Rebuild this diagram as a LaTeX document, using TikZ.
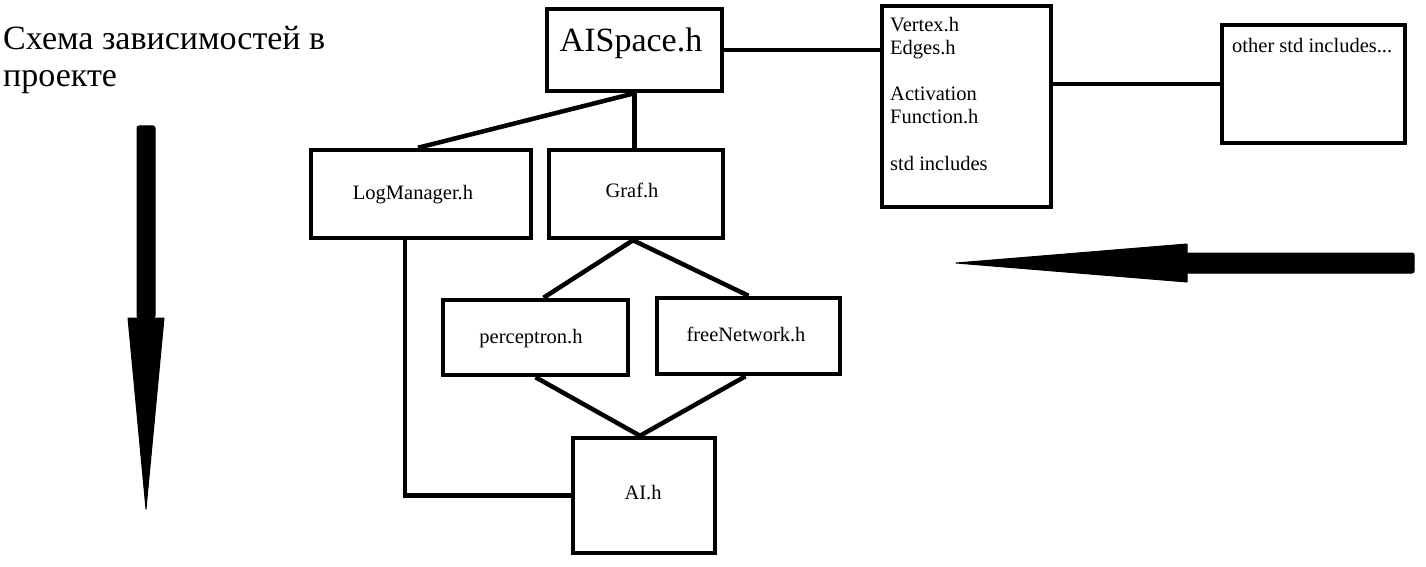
\documentclass[tikz,border=0pt]{standalone}
\usepackage{fontspec}
\setmainfont{Liberation Serif}
\usetikzlibrary{calc}
\tikzset{
  box/.style={draw, line width=4.5pt, inner sep=0pt, minimum width=#1},
  conn/.style={line width=4.5pt},
  small/.style={font=\fontsize{20.5}{23}\selectfont, inner sep=0pt},
  big/.style={font=\fontsize{34}{40}\selectfont, inner sep=0pt},
  ttl/.style={font=\fontsize{34}{38}\selectfont, inner sep=0pt},
  arrowfill/.style={fill=black, draw=black, line width=1pt, line join=round}
}
\begin{document}
\begin{tikzpicture}[x=1pt, y=-1pt]
\useasboundingbox (0,0) rectangle (1426,567);
% boxes
\node[box=175, minimum height=82] (aispace) at (634.5,50) {};
\node[box=169, minimum height=201] (vertex) at (966.5,106.5) {};
\node[box=183, minimum height=118] (other) at (1313.5,84) {};
\node[box=220, minimum height=88] (logm) at (421,194) {};
\node[box=174, minimum height=88] (graf) at (636,194) {};
\node[box=185, minimum height=75] (perc) at (535.5,337.5) {};
\node[box=183, minimum height=76] (free) at (748.5,336) {};
\node[box=142, minimum height=115] (ai) at (644,495.5) {};
% labels
\node[big, anchor=base] (taispace) at (631,52) {AISpace.h};
\node[small, anchor=base west] (tv1) at (890,32) {Vertex.h};
\node[small, anchor=base west] (tv2) at (890,55) {Edges.h};
\node[small, anchor=base west] (tv3) at (890,101) {Activation};
\node[small, anchor=base west] (tv4) at (890,124) {Function.h};
\node[small, anchor=base west] (tv5) at (890,170) {std includes};
\node[small, anchor=base west] (tother) at (1232,53) {other std includes...};
\node[small, anchor=base] (tlogm) at (413,199) {LogManager.h};
\node[small, anchor=base] (tgraf) at (632,197) {Graf.h};
\node[small, anchor=base] (tperc) at (531,343) {perceptron.h};
\node[small, anchor=base] (tfree) at (746,341) {freeNetwork.h};
\node[small, anchor=base] (tai) at (643,499) {AI.h};
\node[ttl, anchor=base west] (t1) at (3,50) {Схема зависимостей в};
\node[ttl, anchor=base west] (t2) at (3,87) {проекте};
% connectors
\draw[conn] (aispace.east) -- (aispace.east -| vertex.west);
\draw[conn] (other.west) -- (other.west -| vertex.east);
\draw[conn] (aispace.south) -- (aispace.south |- graf.north);
\draw[conn] (aispace.south) -- ([xshift=-3pt]logm.north);
\draw[conn] ([xshift=-3pt]graf.south) -- ([xshift=8pt]perc.north);
\draw[conn] ([xshift=-3pt]graf.south) -- (free.north);
\draw[conn] (perc.south) -- ([xshift=-4pt]ai.north);
\draw[conn] ([xshift=-3pt]free.south) -- ([xshift=-4pt]ai.north);
\draw[conn] ([xshift=-16pt]logm.south) |- (ai.west);
% big arrows
\coordinate (dtop) at (146,126);
\coordinate (dtip) at (146,509);
\coordinate (ltail) at (1414,263);
\coordinate (ltip) at (956,263);
\fill[arrowfill, rounded corners=2pt] ($(dtop)+(-9,0)$) rectangle ($(dtop)+(9,192)$);
\filldraw[arrowfill] (128,318) -- (164,318) -- (dtip) -- cycle;
\fill[arrowfill, rounded corners=2pt] (1186,253) rectangle ($(ltail)+(0,10)$);
\filldraw[arrowfill] (1187,244) -- (1187,282) -- (ltip) -- cycle;
\end{tikzpicture}
\end{document}
